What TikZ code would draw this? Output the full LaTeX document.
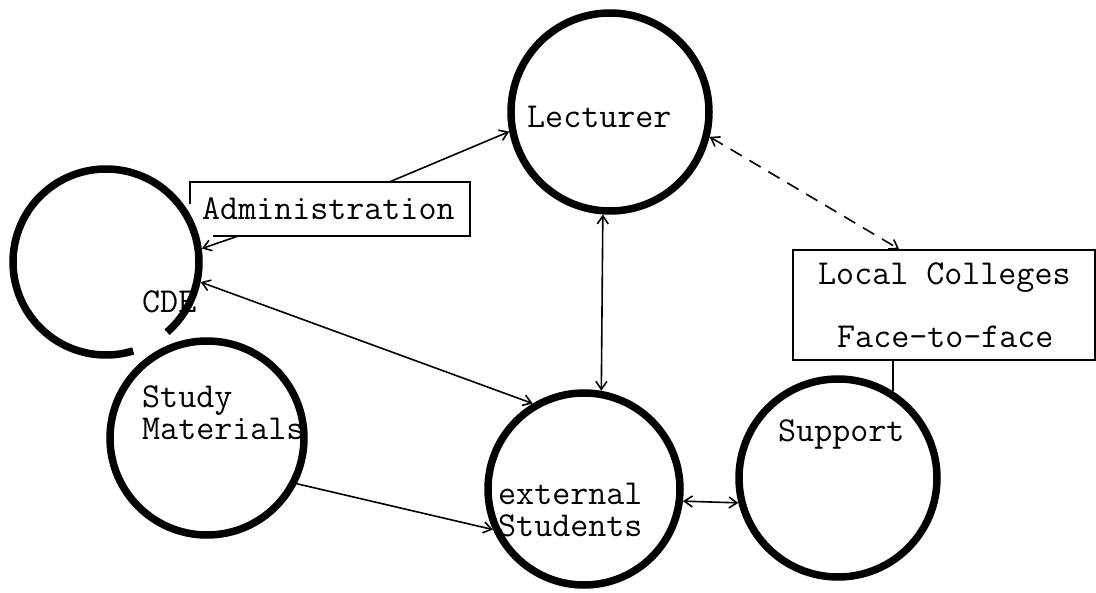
\documentclass[tikz,border=0pt]{standalone}
\usetikzlibrary{arrows.meta,calc}

\begin{document}
\begin{tikzpicture}[x=1pt,y=1pt,
  ring/.style={circle, draw, line width=7.5pt, inner sep=0pt},
  wire/.style={line width=1.6pt},
  barb/.tip={Straight Barb[length=8pt,width=11pt,line width=1.6pt]},
  onetip/.style={-barb},
  twotips/.style={barb-barb},
  lbl/.style={anchor=base west, inner sep=0pt, font=\ttfamily\fontsize{35}{37}\selectfont},
  frame/.style={line width=1.8pt}
]
\useasboundingbox (0,-593) rectangle (1096,0);

% text set first, so the thick rings pass over it where they touch
\node[lbl] (tlect) at (527,-128) {Lecturer};
\node[lbl] (tcde) at (142,-313) {CDE};
\node[lbl] (tstudy) at (142,-408) {Study};
\node[lbl] (tmat) at (142,-440) {Materials};
\node[lbl] (text1) at (498,-505) {external};
\node[lbl] (text2) at (498,-537) {Students};
\node[lbl] (tsup) at (778,-442) {Support};
\node[lbl] (tadmin) at (202,-220) {Administration};
\node[lbl] (tlocal) at (818,-285) {Local Colleges};
\node[lbl] (tface) at (837,-348) {Face-to-face};

% boxes
\node[minimum width=280pt, minimum height=54pt, inner sep=0pt] (admin) at (330,-209) {};
\draw[frame] ($(admin.south west)+(23,0)$) -- (admin.south east) -- (admin.north east)
  -- (admin.north west) -- ($(admin.north west)+(0,-22)$);
\node[draw, frame, minimum width=302pt, minimum height=110pt, inner sep=0pt] (local) at (944,-305) {};

% circles
\node[ring, minimum size=198pt] (lect) at (610,-112) {};
\node[circle, minimum size=186pt, inner sep=0pt, outer sep=3.75pt] (cde) at (106,-262) {};
\draw[line width=7.5pt] ($(cde.center)+(-49:93)$) arc[start angle=-49, end angle=287, radius=93];
\node[ring, minimum size=194pt] (study) at (207,-438) {};
\node[ring, minimum size=192pt] (ext) at (584,-489) {};
\node[ring, minimum size=198pt] (sup) at (838,-478) {};

% connectors
\draw[wire, onetip] ($(admin.north west)+(200,0)$) -- (lect.191);
\draw[wire, onetip] ($(admin.south west)+(48,0)$) -- (cde.8);
\draw[wire, twotips] (cde.-12) -- (ext.121);
\draw[wire, twotips] (lect.266) -- (ext.80);
\draw[wire, twotips, dash pattern=on 13pt off 9pt] (lect.-14) -- ($(local.north west)+(107,0)$);
\draw[wire, onetip] (study.-27) -- (ext.204);
\draw[wire, twotips] (ext.-7) -- (sup.194);
\coordinate (lc) at ($(local.south west)+(101,0)$);
\draw[wire] (lc) -- (lc |- sup.58);
\end{tikzpicture}
\end{document}
